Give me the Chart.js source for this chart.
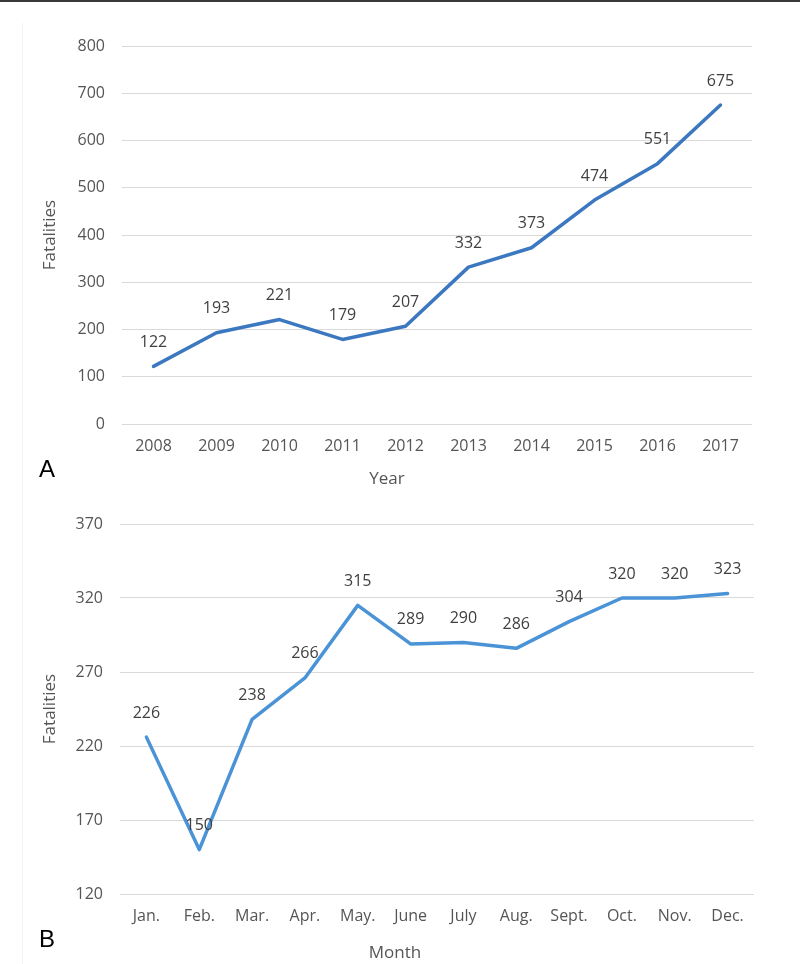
<!DOCTYPE html>
<html>
<head>
<meta charset="utf-8">
<script src="https://cdn.jsdelivr.net/npm/chart.js@4/dist/chart.umd.min.js"></script>
<style>
  html, body { margin: 0; padding: 0; background: #fff; }
  body { width: 800px; height: 964px; position: relative; overflow: hidden; font-family: "Open Sans", sans-serif; }
  canvas { position: absolute; left: 0; }
  .topline { position: absolute; left: 0; top: 0; width: 800px; height: 2px; background: #3a3a3a; }
  .edge { position: absolute; left: 22px; top: 23px; width: 1px; height: 941px; background: #f1f1f1; }
  .panel { position: absolute; font-family: "Liberation Sans", Arial, sans-serif; font-size: 24px; color: #000; line-height: 1; }
  .xtitle { position: absolute; font-family: "Open Sans", sans-serif; font-size: 17px; color: #555; line-height: 1; transform: translate(-50%, -50%); white-space: nowrap; }
</style>
</head>
<body>
<div class="topline"></div>
<div class="edge"></div>
<canvas id="chartA" width="800" height="490" style="top:0px"></canvas>
<canvas id="chartB" width="800" height="474" style="top:490px"></canvas>
<div class="panel" style="left:39px; top:457px;">A</div>
<div class="panel" style="left:39px; top:927px;">B</div>
<div class="xtitle" style="left:387px; top:477px;">Year</div>
<div class="xtitle" style="left:395px; top:951px;">Month</div>
<script>
// ---- Data ----
const yearLabels = ['2008', '2009', '2010', '2011', '2012', '2013', '2014', '2015', '2016', '2017'];
const yearValues = [122, 193, 221, 179, 207, 332, 373, 474, 551, 675];
const yearTicks = [0, 100, 200, 300, 400, 500, 600, 700, 800];

const monthLabels = ['Jan.', 'Feb.', 'Mar.', 'Apr.', 'May.', 'June', 'July', 'Aug.', 'Sept.', 'Oct.', 'Nov.', 'Dec.'];
const monthValues = [226, 150, 238, 266, 315, 289, 290, 286, 304, 320, 320, 323];
const monthTicks = [120, 170, 220, 270, 320, 370];

const yTitle = 'Fatalities';

// ---- Helpers ----
const tickColor = '#555555';
const gridColor = '#d9d9d9';

const valueLabels = {
  id: 'valueLabels',
  afterDatasetsDraw(chart) {
    const ctx = chart.ctx;
    ctx.save();
    ctx.font = '16px "Open Sans", sans-serif';
    ctx.fillStyle = '#404040';
    ctx.textAlign = 'center';
    ctx.textBaseline = 'middle';
    chart.data.datasets.forEach((ds, di) => {
      const meta = chart.getDatasetMeta(di);
      meta.data.forEach((pt, i) => {
        ctx.fillText(String(ds.data[i]), pt.x, pt.y - 24);
      });
    });
    ctx.restore();
  }
};

function makeChart(id, labels, values, ticks, color, pad, yWidth, xHeight) {
  return new Chart(document.getElementById(id), {
    type: 'line',
    data: {
      labels: labels,
      datasets: [{
        data: values,
        borderColor: color,
        borderWidth: 3.5,
        pointRadius: 0,
        pointHoverRadius: 0,
        tension: 0,
        fill: false,
        borderJoinStyle: 'round',
        borderCapStyle: 'round'
      }]
    },
    options: {
      responsive: false,
      animation: false,
      events: [],
      layout: { padding: pad },
      plugins: { legend: { display: false }, tooltip: { enabled: false } },
      scales: {
        x: {
          type: 'category',
          offset: true,
          grid: { display: false, drawTicks: false },
          border: { display: false },
          ticks: { color: tickColor, font: { family: 'Open Sans', size: 16 }, padding: 13, maxRotation: 0, autoSkip: false },
          afterFit(scale) { scale.height = xHeight; }
        },
        y: {
          min: ticks[0],
          max: ticks[ticks.length - 1],
          afterBuildTicks(scale) { scale.ticks = ticks.map(v => ({ value: v })); },
          grid: { color: gridColor, lineWidth: 1, drawTicks: false },
          border: { display: false },
          ticks: { color: tickColor, font: { family: 'Open Sans', size: 16 }, padding: 17 },
          title: { display: true, text: yTitle, color: tickColor, font: { family: 'Open Sans', size: 17 }, padding: { top: 18, bottom: 0 } },
          afterFit(scale) { scale.width = yWidth; }
        }
      }
    },
    plugins: [valueLabels]
  });
}

makeChart('chartA', yearLabels, yearValues, yearTicks, '#3c78c0',
  { left: 22, right: 48, top: 46, bottom: 0 }, 100, 66);
makeChart('chartB', monthLabels, monthValues, monthTicks, '#4a93d6',
  { left: 22, right: 46, top: 34, bottom: 0 }, 98, 70);
</script>
</body>
</html>
